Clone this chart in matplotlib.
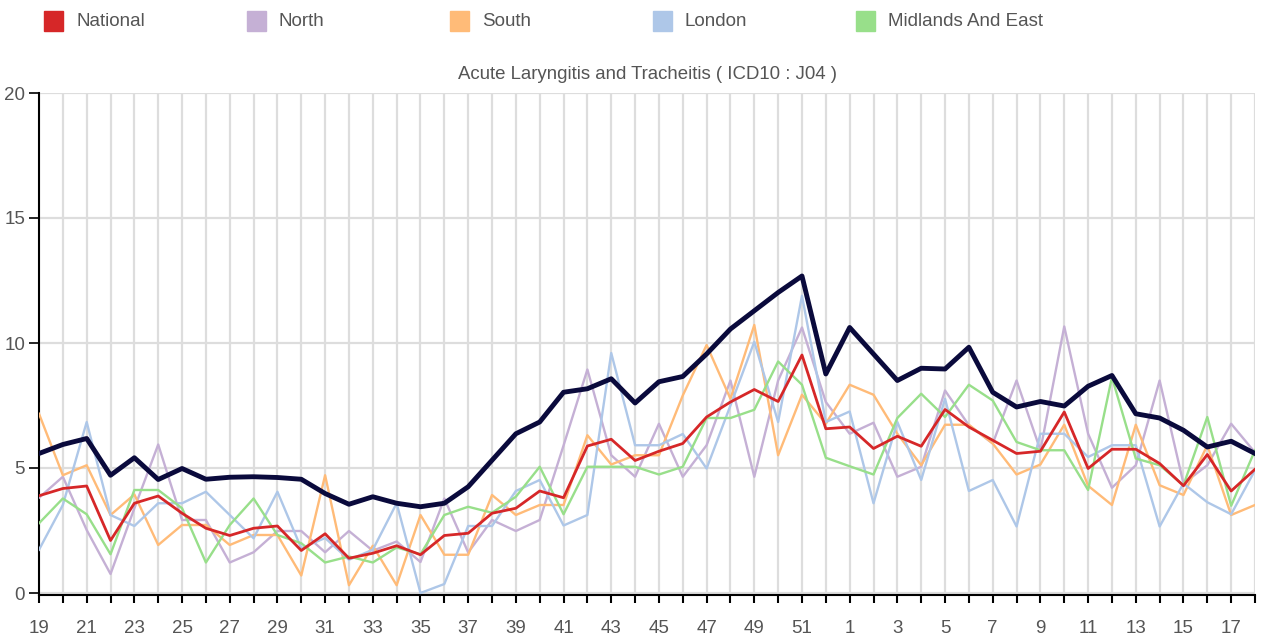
import numpy as np
import matplotlib
matplotlib.use("Agg")
import matplotlib.pyplot as plt
from matplotlib.patches import Rectangle

plt.rcParams['font.family'] = ['Liberation Sans', 'DejaVu Sans']

weeks = list(range(19, 53)) + list(range(1, 19))

baseline = [5.58, 5.94, 6.18, 4.71, 5.41, 4.54, 4.98, 4.55, 4.63, 4.65, 4.62, 4.55,
            3.98, 3.55, 3.85, 3.59, 3.45, 3.59, 4.25, 5.31, 6.37, 6.84, 8.03, 8.17, 8.57, 7.6,
            8.45, 8.66, 9.56, 10.56, 11.29, 12.02, 12.68, 8.76,
            10.62, 9.56, 8.5, 8.99,
            8.96, 9.83, 8.03, 7.44, 7.66, 7.48, 8.27, 8.70, 7.17, 7.0, 6.51, 5.84, 6.07, 5.58]
national = [3.89, 4.18, 4.28, 2.1, 3.59, 3.88, 3.19, 2.59, 2.3, 2.59, 2.68, 1.7,
            2.37, 1.39, 1.59, 1.89, 1.53, 2.3, 2.39, 3.19, 3.39, 4.08, 3.81, 5.88, 6.15, 5.3,
            5.67, 5.98, 7.04, 7.64, 8.14, 7.66, 9.52, 6.57,
            6.64, 5.78, 6.27, 5.87,
            7.34, 6.64, 6.11, 5.58, 5.67, 7.24, 4.98, 5.75, 5.75, 5.18, 4.29, 5.54, 4.08, 4.95]
north = [3.81, 4.65, 2.52, 0.76, 3.39, 5.94, 2.92, 2.92, 1.22, 1.63, 2.48, 2.48,
         1.63, 2.48, 1.69, 2.06, 1.24, 3.78, 1.62, 2.92, 2.48, 2.92, 5.9, 8.94, 5.51, 4.65,
         6.77, 4.65, 5.91, 8.5, 4.65, 8.5, 10.62, 7.64,
         6.37, 6.81, 4.65, 5.05,
         8.1, 6.71, 5.98, 8.5, 5.71, 10.66, 6.37, 4.21, 5.11, 8.5, 4.38, 5.11, 6.77, 5.62]
south = [7.17, 4.71, 5.11, 3.12, 3.94, 1.92, 2.72, 2.72, 1.92, 2.32, 2.32, 0.70,
         4.71, 0.31, 1.89, 0.31, 3.12, 1.53, 1.53, 3.92, 3.12, 3.52, 3.52, 6.31, 5.14, 5.51,
         5.51, 7.9, 9.92, 7.77, 10.72, 5.51, 7.93, 6.77,
         8.33, 7.93, 6.37, 5.11,
         6.73, 6.73, 5.98, 4.74, 5.14, 6.73, 4.29, 3.52, 6.73, 4.31, 3.92, 5.91, 3.12, 3.52]
london = [1.73, 3.52, 6.84, 3.12, 2.68, 3.59, 3.59, 4.05, 3.12, 2.19, 4.05, 1.79,
          2.2, 1.33, 1.73, 3.59, 0.0, 0.36, 2.68, 2.68, 4.08, 4.52, 2.70, 3.12, 9.6, 5.91,
          5.91, 6.36, 4.98, 7.5, 10.05, 6.84, 11.89, 6.84,
          7.26, 3.59, 6.84, 4.52,
          7.77, 4.08, 4.52, 2.66, 6.37, 6.37, 5.44, 5.91, 5.91, 2.66, 4.38, 3.63, 3.15, 4.91]
midlands = [2.79, 3.78, 3.15, 1.55, 4.12, 4.12, 3.39, 1.22, 2.72, 3.78, 2.32, 1.99,
            1.22, 1.46, 1.22, 1.82, 1.55, 3.12, 3.45, 3.21, 3.85, 5.05, 3.15, 5.05, 5.05, 5.05,
            4.74, 5.05, 7.0, 7.0, 7.33, 9.26, 8.33, 5.41,
            5.07, 4.74, 7.0, 7.97,
            7.04, 8.33, 7.7, 6.04, 5.71, 5.71, 4.12, 8.63, 5.38, 5.11, 4.31, 7.04, 3.49, 5.71]

names = ['National', 'North', 'South', 'London', 'Midlands And East']
colors = ['#d62728', '#c5b0d5', '#ffbb78', '#aec7e8', '#98df8a']
text_col = '#555555'

fig = plt.figure(figsize=(12.63, 6.44), dpi=100)
ax = fig.add_axes([39/1263, 49/644, (1255-39)/1263, (595-93)/644])

x = np.arange(len(weeks))
for vals, c in zip([north, south, london, midlands], colors[1:]):
    ax.plot(x, vals, color=c, lw=1.7, zorder=3)
ax.plot(x, national, color=colors[0], lw=2.0, zorder=4)
ax.plot(x, baseline, color='#0a0a3c', lw=3.5, zorder=5)

ax.set_xlim(0, len(weeks) - 1)
ax.set_ylim(-0.08, 20)
ax.set_xticks(x)
ax.set_xticklabels([str(w) if i % 2 == 0 else '' for i, w in enumerate(weeks)])
ax.set_yticks([0, 5, 10, 15, 20])
ax.grid(True, color='#dddddd', lw=1.6, zorder=0)
ax.set_axisbelow(True)
for s in ['top', 'right']:
    ax.spines[s].set_visible(False)
for s in ['left', 'bottom']:
    ax.spines[s].set_color('black')
    ax.spines[s].set_linewidth(1.5)
ax.tick_params(axis='x', length=6, width=1.5, color='black', pad=12,
               labelsize=13.5, labelcolor=text_col)
ax.tick_params(axis='y', length=7, width=1.2, color='black', pad=3,
               labelsize=13.5, labelcolor=text_col)

ax.set_title('Acute Laryngitis and Tracheitis ( ICD10 : J04 )', fontsize=13.4,
             color=text_col, pad=10)

# legend row
for i, (n, c) in enumerate(zip(names, colors)):
    x0 = 44 + i * 203
    fig.add_artist(Rectangle((x0/1263, 1 - 31/644), 19/1263, 20/644,
                             transform=fig.transFigure, color=c))
    fig.text((x0 + 32)/1263, 1 - 21/644, n, fontsize=13.5, color=text_col,
             va='center', ha='left')

fig.savefig('out.png', dpi=100)
